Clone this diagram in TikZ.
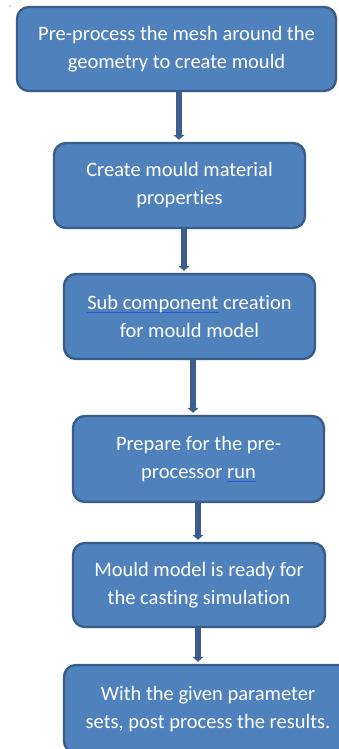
\documentclass[tikz,border=0pt]{standalone}
\usepackage{fontspec}
\setmainfont[Ligatures=NoCommon]{Carlito}
\usetikzlibrary{arrows.meta}
\definecolor{boxfill}{HTML}{4F81BD}
\definecolor{boxline}{HTML}{385D8A}
\definecolor{conncol}{HTML}{3A5F8F}
\definecolor{ulblue}{HTML}{2B55D9}
\newcommand{\bluline}[1]{{\setbox0\hbox{#1}\rlap{\textcolor{ulblue}{\rule[-3.5pt]{\wd0}{1.3pt}}}\box0}}
\tikzset{
  stepbox/.style={draw=boxline, line width=2.4pt, fill=boxfill, rounded corners=12pt,
    text=white, align=center, font=\fontsize{20.5}{28}\selectfont, inner sep=0pt},
  conn/.style={draw=conncol, line width=6.5pt, -{Triangle[width=11pt,length=5pt]}, shorten >=2pt}
}
\begin{document}
\begin{tikzpicture}[x=1pt,y=1pt]
\clip (0,0) rectangle (339,-749);
\fill[white] (0,0) rectangle (339,-749);
\fill[gray!60] (10,-6) circle (0.8);
\node[stepbox, minimum width=319pt, minimum height=84pt] (b1) at (176.5,-49)
  {Pre-process the mesh around the\\geometry to create mould};
\node[stepbox, minimum width=251pt, minimum height=85pt] (b2) at (179.5,-185.5)
  {Create mould material\\properties};
\node[stepbox, minimum width=251pt, minimum height=85pt] (b3) at (189.5,-316.5)
  {\bluline{Sub component} creation\\for mould model};
\node[stepbox, minimum width=251pt, minimum height=86pt] (b4) at (198.5,-459)
  {Prepare for the pre-\\processor \bluline{run}};
\node[stepbox, minimum width=252pt, minimum height=84pt] (b5) at (199,-585)
  {Mould model is ready for\\the casting simulation};
\node[stepbox, minimum width=288pt, minimum height=88pt] (b6) at (208,-709)
  {With the given parameter\\sets, post process the results.};
\draw[conn] ([xshift=2.5pt]b1.south) -- ([xshift=-0.5pt]b2.north);
\draw[conn] ([xshift=4.5pt]b2.south) -- ([xshift=-5.5pt]b3.north);
\draw[conn] ([xshift=3.5pt]b3.south) -- ([xshift=-5.5pt]b4.north);
\draw[conn] ([xshift=-0.5pt]b4.south) -- ([xshift=-1pt]b5.north);
\draw[conn] ([xshift=-1pt]b5.south) -- ([xshift=-10pt]b6.north);
\end{tikzpicture}
\end{document}
